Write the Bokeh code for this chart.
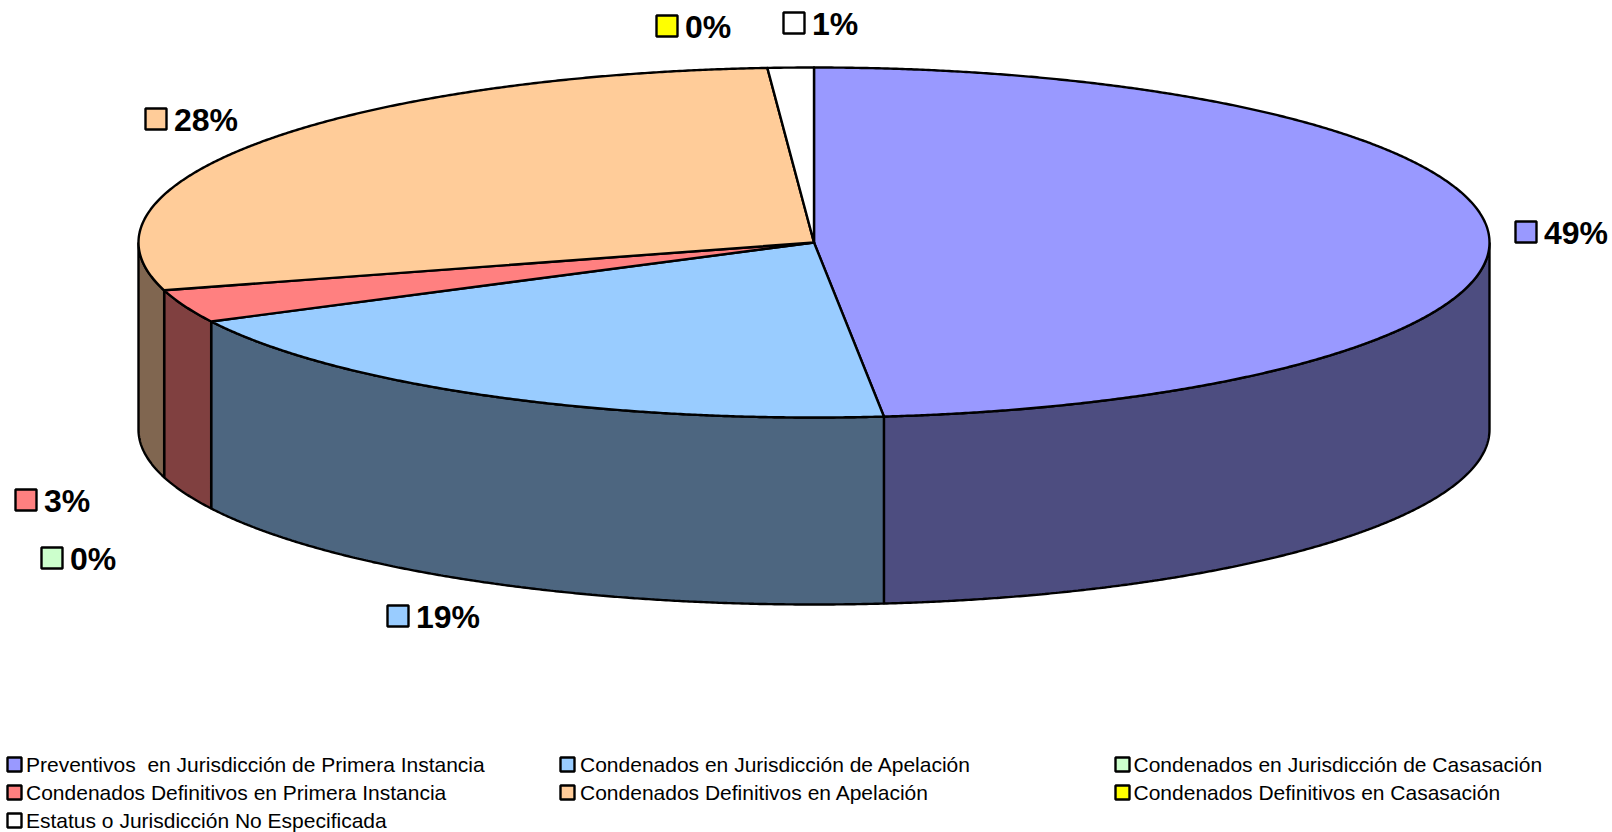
import numpy as np
from bokeh.plotting import figure
from bokeh.models import Range1d
from bokeh.core.properties import value
from bokeh.embed import file_html
from bokeh.resources import INLINE

categories = ["Preventivos  en Jurisdicción de Primera Instancia",
              "Condenados en Jurisdicción de Apelación",
              "Condenados en Jurisdicción de Casasación",
              "Condenados Definitivos en Primera Instancia",
              "Condenados Definitivos en Apelación",
              "Condenados Definitivos en Casasación",
              "Estatus o Jurisdicción No Especificada"]
shares = [48.35, 19.2, 0.0, 3.05, 28.3, 0.0, 1.1]
labels = ["49%", "19%", "0%", "3%", "28%", "0%", "1%"]
top_colors = ["#9999FF", "#99CCFF", "#CCFFCC", "#FF8080", "#FFCC99", "#FFFF00", "#FFFFFF"]
side_colors = ["#4D4D80", "#4D6680", "#668066", "#804040", "#806650", "#808000", "#808080"]

W, H = 1612, 832
CX, CY, RX, RY, DEPTH = 813.5, 242, 675.5, 175, 187
FONT = value("Liberation Sans")

label_box_left = [1515, 387, 41, 15, 145, 656, 783]
label_box_top = [221, 605, 547, 489, 108, 15, 12]
BOX = 21
legend_x = [7, 560, 1115, 7, 560, 1115, 7]
legend_text_x = [25.5, 579.5, 1133, 25.5, 579.5, 1133, 25.5]
legend_y = [764, 764, 764, 792, 792, 792, 820]
LEG_BOX = 14

p = figure(width=W, height=H, output_backend="svg", toolbar_location=None,
           x_range=Range1d(0, W), y_range=Range1d(H, 0),
           min_border=0, outline_line_color=None, background_fill_color="white")
p.axis.visible = False
p.grid.visible = False


def arc(a, b):
    t = np.radians(np.linspace(a, b, max(3, int(abs(b - a) * 4))))
    return CX + RX * np.sin(t), CY - RY * np.cos(t)


edges = np.cumsum([0.0] + shares) * 3.6

# front side walls (only the part of each slice between 90 and 270 degrees shows)
for i in range(len(shares)):
    a, b = max(edges[i], 90.0), min(edges[i + 1], 270.0)
    if b <= a:
        continue
    x, y = arc(a, b)
    p.patch(np.r_[x, x[::-1]], np.r_[y, y[::-1] + DEPTH],
            fill_color=side_colors[i], line_color="black", line_width=2.4)

# top faces
for i in range(len(shares)):
    if shares[i] <= 0:
        continue
    x, y = arc(edges[i], edges[i + 1])
    p.patch(np.r_[CX, x, CX], np.r_[CY, y, CY],
            fill_color=top_colors[i], line_color="black", line_width=2.4,
            line_join="round")

# data labels with colour keys
for i, t in enumerate(labels):
    l, tp = label_box_left[i], label_box_top[i]
    p.quad(left=l, right=l + BOX, top=tp, bottom=tp + BOX,
           fill_color=top_colors[i], line_color="black", line_width=2.4)
    p.text(x=[l + BOX + 7.5], y=[tp + BOX / 2 + 1], text=[t], text_font=FONT,
           text_font_style="bold", text_font_size="32px",
           text_baseline="middle", text_align="left", text_color="black")

# legend
for i, t in enumerate(categories):
    l, c = legend_x[i], legend_y[i]
    p.quad(left=l, right=l + LEG_BOX, top=c - LEG_BOX / 2, bottom=c + LEG_BOX / 2,
           fill_color=top_colors[i], line_color="black", line_width=2.4)
    p.text(x=[legend_text_x[i]], y=[c], text=[t.replace("  ", "\u00a0 ")], text_font=FONT,
           text_font_size="21px", text_baseline="middle", text_align="left", text_color="black")

open("out.html", "w").write(file_html(p, INLINE))
